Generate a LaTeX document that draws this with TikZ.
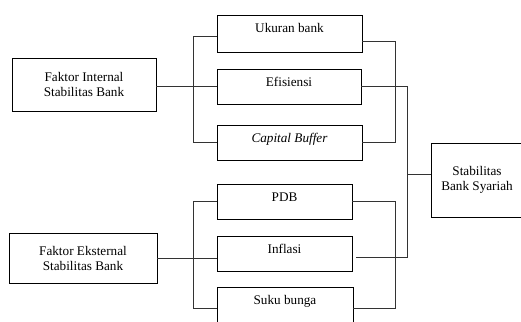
\documentclass[tikz,border=0pt]{standalone}
\usepackage{fontspec}
\setmainfont{Liberation Serif}
\usetikzlibrary{calc}
\newcommand{\boxfont}{\fontsize{13.2}{15}\selectfont}
\tikzset{
  wire/.style={line width=0.9pt,black!80},
  factor/.style={draw,line width=0.9pt,align=center,inner sep=2pt,font=\boxfont},
  item/.style={draw,line width=0.9pt,minimum width=145pt,minimum height=35pt,inner sep=0pt,text height=8pt,text depth=7.5pt,font=\boxfont},
}
\begin{document}
\begin{tikzpicture}[x=1pt,y=-1pt]
  \useasboundingbox (0,0) rectangle (521,321);
  \clip (0,0) rectangle (521,321);
  % factor boxes
  \node[factor,minimum width=144pt,minimum height=53pt] (intern) at (84,84.5) {Faktor Internal\\Stabilitas Bank};
  \node[factor,minimum width=148pt,minimum height=50pt] (ekstern) at (83,258) {Faktor Eksternal\\Stabilitas Bank};
  \node[factor,minimum width=92pt,minimum height=74pt] (stab) at (477,180) {Stabilitas\\Bank Syariah};
  % internal indicators
  \node[item,minimum height=37pt,text depth=10pt] (ukuran) at (289.5,33.5) {Ukuran bank};
  \node[item,minimum width=144pt] (efis) at (289,86.5) {Efisiensi};
  \node[item] (capital) at (289.5,142.5) {\textit{Capital Buffer}};
  % external indicators
  \node[item,minimum width=135pt] (pdb) at (284.5,201.5) {PDB};
  \node[item,minimum width=135pt] (inflasi) at (284.5,253.5) {Inflasi};
  \node[item,minimum width=136pt] (suku) at (285,304.5) {Suku bunga};
  % left brackets
  \draw[wire] (intern.east |- efis.west) -- (efis.west);
  \draw[wire] ($(ukuran.west)+(0,2.5)$) -- ++(-23,0) |- (capital.west);
  \draw[wire] (ekstern.east) -- (ekstern.east -| inflasi.west);
  \draw[wire] (pdb.west) -- ++(-23,0) |- ($(suku.west)+(0,3.5)$);
  % right brackets
  \draw[wire] ($(ukuran.east)+(0,7.5)$) -- ++(33,0) |- (capital.east);
  \draw[wire] (pdb.east) -- ++(43,0) |- ($(suku.east)+(0,3.5)$);
  % joint to target
  \draw[wire] (efis.east) -| ($(inflasi.east)+(55,3.5)$) -- ($(inflasi.east)+(4,3.5)$);
  \draw[wire] ($(stab.west)+(0,-6)$) -- ++(-24,0);
\end{tikzpicture}
\end{document}
